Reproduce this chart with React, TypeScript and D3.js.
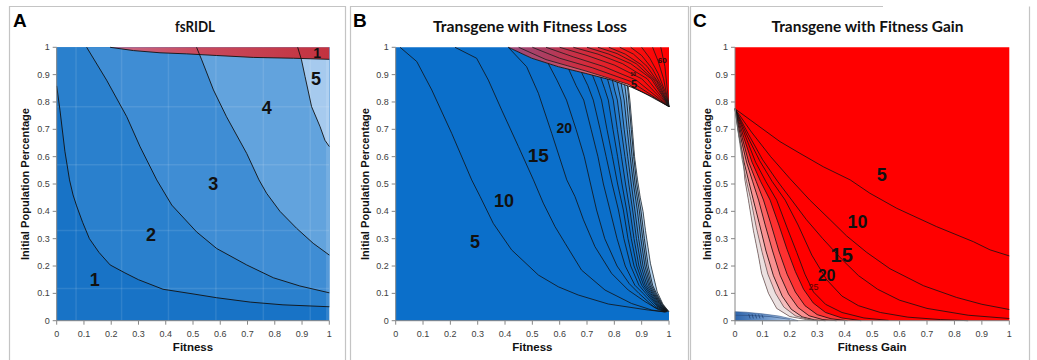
import React from 'react';
import * as d3 from 'd3';

type P = [number, number];

// ---------- shared ----------
const tickValues = [0, 0.1, 0.2, 0.3, 0.4, 0.5, 0.6, 0.7, 0.8, 0.9, 1];
const tickLabels = ['0', '0.1', '0.2', '0.3', '0.4', '0.5', '0.6', '0.7', '0.8', '0.9', '1'];
const panelLetters = ['A', 'B', 'C'];
const panelTitles = ['fsRIDL', 'Transgene with Fitness Loss', 'Transgene with Fitness Gain'];
const xTitles = ['Fitness', 'Fitness', 'Fitness Gain'];
const yTitle = 'Initial Population Percentage';

// ---------- Panel A (fsRIDL) contour lines ----------
const A_line1: P[] = [[0, 0.859], [0.012, 0.77], [0.03, 0.62], [0.047, 0.515], [0.06, 0.46], [0.073, 0.42], [0.095, 0.36], [0.12, 0.3], [0.155, 0.25], [0.196, 0.204], [0.25, 0.175], [0.3, 0.15], [0.39, 0.115], [0.5, 0.098], [0.587, 0.084], [0.71, 0.068], [0.83, 0.058], [1, 0.051]];
const A_line2: P[] = [[0.11, 1], [0.183, 0.88], [0.257, 0.746], [0.306, 0.636], [0.367, 0.515], [0.422, 0.423], [0.513, 0.325], [0.587, 0.264], [0.697, 0.204], [0.795, 0.157], [0.892, 0.127], [1, 0.102]];
const A_line3: P[] = [[0.513, 1], [0.532, 0.954], [0.575, 0.844], [0.623, 0.746], [0.697, 0.612], [0.742, 0.515], [0.77, 0.466], [0.819, 0.4], [0.88, 0.338], [0.941, 0.283], [1, 0.24]];
const A_line4: P[] = [[0.884, 1], [0.898, 0.954], [0.911, 0.893], [0.935, 0.783], [0.966, 0.71], [0.984, 0.66], [1, 0.637]];
const A_red: P[] = [[0.196, 1], [0.282, 0.988], [0.379, 0.98], [0.477, 0.976], [0.587, 0.97], [0.721, 0.963], [0.868, 0.96], [1, 0.956]];
const A_gridX = [0.071, 0.238, 0.41, 0.584, 0.758, 0.93];
const A_gridY = [0.118, 0.33, 0.57, 0.783];
const A_labels: { t: string; x: number; y: number; s: number }[] = [
  { t: '1', x: 0.14, y: 0.149, s: 18 },
  { t: '2', x: 0.346, y: 0.313, s: 18 },
  { t: '3', x: 0.574, y: 0.5, s: 18 },
  { t: '4', x: 0.771, y: 0.778, s: 18 },
  { t: '5', x: 0.951, y: 0.884, s: 18 },
  { t: '1', x: 0.955, y: 0.979, s: 14 },
];

// ---------- Panel B (fitness loss) ----------
const B_boundary: P[] = [[0.412, 1], [0.498, 0.96], [0.595, 0.929], [0.693, 0.905], [0.79, 0.88], [0.863, 0.854], [0.937, 0.82], [1, 0.783]];
const B_edge: P[] = [[0.851, 0.856], [0.857, 0.807], [0.866, 0.7], [0.874, 0.6], [0.885, 0.515], [0.895, 0.45], [0.905, 0.4], [0.914, 0.33], [0.932, 0.21], [0.957, 0.105], [0.978, 0.06], [1, 0.033]];
const B_l5: P[] = [[0.016, 1], [0.077, 0.948], [0.132, 0.844], [0.205, 0.685], [0.278, 0.515], [0.309, 0.454], [0.357, 0.356], [0.424, 0.259], [0.522, 0.167], [0.595, 0.124], [0.668, 0.094], [0.778, 0.061], [0.924, 0.039], [0.985, 0.032]];
const B_l10: P[] = [[0.217, 1], [0.296, 0.96], [0.339, 0.88], [0.388, 0.77], [0.449, 0.637], [0.504, 0.515], [0.54, 0.43], [0.583, 0.344], [0.62, 0.283], [0.68, 0.185], [0.766, 0.112], [0.863, 0.063], [0.937, 0.039], [0.985, 0.032]];
const B_l15: P[] = [[0.412, 1], [0.479, 0.929], [0.522, 0.832], [0.571, 0.685], [0.626, 0.515], [0.656, 0.454], [0.674, 0.405], [0.687, 0.369], [0.729, 0.271], [0.79, 0.173], [0.851, 0.112], [0.912, 0.07], [0.96, 0.041], [0.988, 0.032]];
const B_l20: P[] = [[0.558, 0.941], [0.59, 0.88], [0.625, 0.807], [0.66, 0.7], [0.69, 0.6], [0.713, 0.5], [0.735, 0.405], [0.765, 0.3], [0.81, 0.2], [0.855, 0.135], [0.89, 0.1], [0.945, 0.05], [0.988, 0.032]];
const B_l25: P[] = [[0.633, 0.92], [0.66, 0.86], [0.688, 0.807], [0.715, 0.7], [0.74, 0.6], [0.76, 0.5], [0.784, 0.405], [0.81, 0.3], [0.84, 0.2], [0.875, 0.13], [0.905, 0.1], [0.95, 0.052], [0.99, 0.032]];
const B_l30: P[] = [[0.68, 0.908], [0.703, 0.86], [0.723, 0.807], [0.748, 0.7], [0.77, 0.6], [0.792, 0.5], [0.815, 0.405], [0.835, 0.3], [0.86, 0.2], [0.89, 0.13], [0.915, 0.1], [0.955, 0.054], [0.99, 0.033]];
const B_l35: P[] = [[0.72, 0.898], [0.737, 0.855], [0.753, 0.807], [0.773, 0.7], [0.793, 0.6], [0.812, 0.5], [0.833, 0.405], [0.85, 0.3], [0.872, 0.2], [0.9, 0.13], [0.922, 0.1], [0.958, 0.055], [0.992, 0.033]];
const B_l40: P[] = [[0.75, 0.89], [0.764, 0.85], [0.778, 0.807], [0.795, 0.7], [0.812, 0.6], [0.828, 0.5], [0.845, 0.405], [0.862, 0.3], [0.882, 0.2], [0.907, 0.13], [0.928, 0.1], [0.961, 0.056], [0.992, 0.034]];
const B_l45: P[] = [[0.775, 0.884], [0.786, 0.845], [0.796, 0.807], [0.811, 0.7], [0.826, 0.6], [0.841, 0.5], [0.857, 0.405], [0.872, 0.3], [0.89, 0.2], [0.913, 0.13], [0.933, 0.1], [0.964, 0.057], [0.993, 0.034]];
const B_l50: P[] = [[0.793, 0.879], [0.802, 0.84], [0.811, 0.807], [0.825, 0.7], [0.839, 0.6], [0.853, 0.5], [0.867, 0.405], [0.881, 0.3], [0.898, 0.2], [0.919, 0.13], [0.938, 0.1], [0.967, 0.058], [0.994, 0.034]];
const B_l55: P[] = [[0.81, 0.873], [0.817, 0.84], [0.824, 0.807], [0.836, 0.7], [0.849, 0.6], [0.862, 0.5], [0.875, 0.405], [0.889, 0.3], [0.905, 0.2], [0.925, 0.13], [0.942, 0.1], [0.969, 0.059], [0.995, 0.034]];
const B_l60: P[] = [[0.825, 0.867], [0.83, 0.84], [0.836, 0.807], [0.847, 0.7], [0.858, 0.6], [0.87, 0.5], [0.884, 0.405], [0.897, 0.3], [0.912, 0.2], [0.93, 0.13], [0.946, 0.1], [0.971, 0.06], [0.996, 0.034]];
const B_l65: P[] = [[0.838, 0.862], [0.841, 0.84], [0.845, 0.807], [0.855, 0.7], [0.865, 0.6], [0.876, 0.5], [0.891, 0.405], [0.904, 0.3], [0.918, 0.2], [0.935, 0.13], [0.95, 0.1], [0.973, 0.061], [0.997, 0.034]];
const B_l70: P[] = [[0.848, 0.858], [0.85, 0.84], [0.853, 0.807], [0.862, 0.7], [0.871, 0.6], [0.882, 0.5], [0.897, 0.405], [0.91, 0.3], [0.924, 0.2], [0.94, 0.13], [0.954, 0.1], [0.975, 0.062], [0.998, 0.034]];
const B_blueLines = [B_l5, B_l10, B_l15, B_l20, B_l25, B_l30, B_l35, B_l40, B_l45, B_l50, B_l55, B_l60, B_l65, B_l70];
const B_bandColors = ['#1574cc', '#237ccf', '#3587d3', '#4b94d8', '#66a5de', '#86b8e4', '#b0d0ee'];
const B_redLines: P[][] = [
  [[0.45, 1], [0.55, 0.955], [0.7, 0.912], [0.85, 0.865], [1, 0.783]],
  [[0.5, 1], [0.6, 0.96], [0.72, 0.925], [0.86, 0.875], [1, 0.783]],
  [[0.55, 1], [0.65, 0.965], [0.76, 0.93], [0.88, 0.88], [1, 0.783]],
  [[0.6, 1], [0.7, 0.97], [0.8, 0.935], [0.9, 0.885], [1, 0.783]],
  [[0.65, 1], [0.74, 0.975], [0.83, 0.94], [0.92, 0.885], [1, 0.783]],
  [[0.7, 1], [0.78, 0.975], [0.86, 0.94], [0.935, 0.885], [1, 0.783]],
  [[0.74, 1], [0.81, 0.977], [0.88, 0.94], [0.945, 0.88], [1, 0.783]],
  [[0.78, 1], [0.84, 0.975], [0.9, 0.935], [0.955, 0.875], [1, 0.783]],
  [[0.82, 1], [0.87, 0.975], [0.92, 0.93], [0.965, 0.865], [1, 0.783]],
  [[0.86, 1], [0.9, 0.97], [0.94, 0.92], [0.975, 0.855], [1, 0.783]],
  [[0.9, 1], [0.93, 0.96], [0.96, 0.905], [0.985, 0.84], [1, 0.783]],
  [[0.94, 1], [0.96, 0.95], [0.98, 0.885], [1, 0.783]],
  [[0.97, 1], [0.985, 0.93], [1, 0.783]],
];
const B_labels: { t: string; x: number; y: number; s: number }[] = [
  { t: '5', x: 0.29, y: 0.289, s: 18 },
  { t: '10', x: 0.396, y: 0.44, s: 18 },
  { t: '15', x: 0.522, y: 0.606, s: 19 },
  { t: '20', x: 0.617, y: 0.704, s: 14 },
  { t: '5', x: 0.872, y: 0.865, s: 11 },
  { t: '10', x: 0.868, y: 0.9, s: 5 },
  { t: '60', x: 0.975, y: 0.953, s: 8 },
];

// ---------- Panel C (fitness gain) ----------
const C_edge: P[] = [[0, 0.775], [0.01, 0.7], [0.018, 0.66], [0.03, 0.588], [0.036, 0.515], [0.049, 0.441], [0.067, 0.33], [0.085, 0.24], [0.097, 0.173], [0.122, 0.1], [0.152, 0.045], [0.2, 0.015], [0.26, 0.004], [0.3, 0]];
const C_f1: P[] = [[0, 0.775], [0.013, 0.68], [0.026, 0.59], [0.042, 0.51], [0.058, 0.441], [0.078, 0.34], [0.099, 0.25], [0.12, 0.17], [0.148, 0.1], [0.178, 0.05], [0.22, 0.018], [0.27, 0.004], [0.31, 0]];
const C_l45: P[] = [[0, 0.775], [0.016, 0.67], [0.033, 0.58], [0.05, 0.51], [0.067, 0.441], [0.09, 0.35], [0.113, 0.255], [0.14, 0.165], [0.172, 0.09], [0.205, 0.042], [0.245, 0.014], [0.29, 0.003], [0.33, 0]];
const C_l40: P[] = [[0, 0.775], [0.021, 0.67], [0.042, 0.58], [0.064, 0.51], [0.086, 0.441], [0.11, 0.35], [0.137, 0.255], [0.165, 0.165], [0.195, 0.098], [0.23, 0.048], [0.27, 0.018], [0.32, 0.004], [0.37, 0]];
const C_l35: P[] = [[0, 0.775], [0.026, 0.67], [0.05, 0.58], [0.077, 0.51], [0.104, 0.441], [0.132, 0.35], [0.16, 0.255], [0.19, 0.17], [0.22, 0.105], [0.255, 0.055], [0.3, 0.022], [0.35, 0.007], [0.41, 0]];
const C_l30: P[] = [[0, 0.775], [0.032, 0.67], [0.062, 0.58], [0.093, 0.51], [0.128, 0.441], [0.16, 0.35], [0.19, 0.26], [0.22, 0.18], [0.25, 0.115], [0.285, 0.065], [0.33, 0.03], [0.39, 0.01], [0.46, 0]];
const C_l25: P[] = [[0, 0.775], [0.04, 0.67], [0.075, 0.58], [0.112, 0.51], [0.152, 0.441], [0.19, 0.34], [0.225, 0.25], [0.255, 0.17], [0.286, 0.105], [0.33, 0.06], [0.39, 0.03], [0.47, 0.01], [0.56, 0.001]];
const C_l20: P[] = [[0, 0.775], [0.045, 0.675], [0.09, 0.585], [0.135, 0.51], [0.183, 0.441], [0.23, 0.35], [0.28, 0.24], [0.334, 0.15], [0.39, 0.09], [0.45, 0.055], [0.53, 0.03], [0.63, 0.013], [0.75, 0.004], [0.85, 0]];
const C_l15: P[] = [[0, 0.775], [0.05, 0.68], [0.1, 0.59], [0.155, 0.51], [0.207, 0.441], [0.26, 0.37], [0.32, 0.3], [0.389, 0.225], [0.45, 0.165], [0.52, 0.115], [0.6, 0.075], [0.7, 0.045], [0.85, 0.02], [1, 0.008]];
const C_l10: P[] = [[0, 0.775], [0.06, 0.69], [0.13, 0.6], [0.2, 0.52], [0.273, 0.441], [0.346, 0.37], [0.407, 0.31], [0.48, 0.25], [0.565, 0.19], [0.687, 0.128], [0.808, 0.085], [0.9, 0.06], [1, 0.041]];
const C_l5: P[] = [[0, 0.775], [0.164, 0.655], [0.237, 0.612], [0.322, 0.563], [0.42, 0.515], [0.492, 0.466], [0.59, 0.411], [0.735, 0.344], [0.869, 0.289], [0.93, 0.259], [1, 0.237]];
const C_lines = [C_l5, C_l10, C_l15, C_l20, C_l25, C_l30, C_l35, C_l40, C_l45, C_f1, C_edge];
const C_fringe = [C_edge, C_f1, C_l45, C_l40, C_l35, C_l30];
const C_fringeColors = ['#ebe0e0', '#f5bcbc', '#f99090', '#fc6262', '#fe3030'];
const C_blue: P[] = [[0, 0], [0, 0.033], [0.04, 0.031], [0.1, 0.025], [0.16, 0.017], [0.2, 0.008], [0.23, 0]];
const C_blueInner: P[] = [[0, 0.02], [0.06, 0.019], [0.13, 0.015], [0.2, 0.005]];
const C_hatch: [number, number, number, number][] = [[0.05, 0.024, 0.055, 0.008], [0.062, 0.024, 0.067, 0.008], [0.074, 0.023, 0.079, 0.008], [0.086, 0.023, 0.091, 0.008], [0.098, 0.022, 0.103, 0.009]];
const C_labels: { t: string; x: number; y: number; s: number; c?: string; w?: string }[] = [
  { t: '5', x: 0.535, y: 0.533, s: 18 },
  { t: '10', x: 0.447, y: 0.362, s: 18 },
  { t: '15', x: 0.389, y: 0.24, s: 20 },
  { t: '20', x: 0.334, y: 0.167, s: 16 },
  { t: '25', x: 0.286, y: 0.124, s: 9, c: '#5a0000', w: 'normal' },
];

// ---------- layout ----------
const Y_BOTTOM = 320.7;
const Y_TOP = 47.3;
const panelX: [number, number][] = [[56.7, 329.3], [395.7, 669], [735, 1009.3]];
const titleCenters = [195, 530, 867.5];
const titleWidths = [40, 194, 192];
const letterX = [13, 353, 693];
const yTitleX = [25, 365, 707];

const FONT = 'Liberation Sans, Arial, sans-serif';
const TITLE_FONT = 'Lato, Liberation Sans, sans-serif';

function Axes({ i }: { i: number }) {
  const x = d3.scaleLinear().domain([0, 1]).range(panelX[i]);
  const y = d3.scaleLinear().domain([0, 1]).range([Y_BOTTOM, Y_TOP]);
  const cx = (panelX[i][0] + panelX[i][1]) / 2;
  const cy = (Y_BOTTOM + Y_TOP) / 2;
  return (
    <g fontFamily={FONT}>
      <line x1={x(0)} x2={x(1)} y1={y(0)} y2={y(0)} stroke="#868686" />
      <line x1={x(0)} x2={x(0)} y1={y(0)} y2={y(1)} stroke="#868686" />
      {tickValues.map((t, k) => (
        <g key={'x' + k}>
          <line x1={x(t)} x2={x(t)} y1={y(0)} y2={y(0) + 4} stroke="#868686" />
          <text x={x(t)} y={336.5} fontSize={9} textAnchor="middle" fill="#404040">{tickLabels[k]}</text>
        </g>
      ))}
      {tickValues.map((t, k) => (
        <g key={'y' + k}>
          <line x1={x(0) - 4} x2={x(0)} y1={y(t)} y2={y(t)} stroke="#868686" />
          <text x={x(0) - 7} y={y(t) + 3} fontSize={9} textAnchor="end" fill="#404040">{tickLabels[k]}</text>
        </g>
      ))}
      <text x={cx} y={351} fontSize={11.5} fontWeight="bold" textAnchor="middle" fill="#111">{xTitles[i]}</text>
      <text transform={`translate(${yTitleX[i] + 4},${cy}) rotate(-90)`} fontSize={11} fontWeight="bold" textAnchor="middle" fill="#111" textLength={152} lengthAdjust="spacingAndGlyphs">{yTitle}</text>
      <text x={letterX[i]} y={27} fontSize={19} fontWeight="bold" fill="#000">{panelLetters[i]}</text>
      <text x={titleCenters[i]} y={32} fontFamily={TITLE_FONT} fontSize={15} fontWeight="bold" textAnchor="middle" fill="#111" textLength={titleWidths[i]} lengthAdjust="spacingAndGlyphs">{panelTitles[i]}</text>
    </g>
  );
}

function PanelA() {
  const x = d3.scaleLinear().domain([0, 1]).range(panelX[0]);
  const y = d3.scaleLinear().domain([0, 1]).range([Y_BOTTOM, Y_TOP]);
  const line = d3.line<P>().x(d => x(d[0])).y(d => y(d[1]));
  const above = (pts: P[]) => line([...pts, [1, 1] as P, [pts[0][0], 1] as P]) + 'Z';
  return (
    <g>
      <defs>
        <linearGradient id="aRed" gradientUnits="userSpaceOnUse" x1={x(0.2)} x2={x(1)} y1={0} y2={0}>
          <stop offset="0" stopColor="#c86a86" />
          <stop offset="0.4" stopColor="#c84a5e" />
          <stop offset="1" stopColor="#c3323f" />
        </linearGradient>
      </defs>
      <rect x={x(0)} y={y(1)} width={x(1) - x(0)} height={y(0) - y(1)} fill="#1873c6" />
      <path d={above(A_line1)} fill="#2a80cd" />
      <path d={above(A_line2)} fill="#3f8dd4" />
      <path d={above(A_line3)} fill="#62a3dd" />
      <path d={above(A_line4)} fill="#a6caee" />
      {A_gridX.map((g, k) => <line key={'gx' + k} x1={x(g)} x2={x(g)} y1={y(0)} y2={y(1)} stroke="#ffffff" strokeOpacity={0.1} strokeWidth={1.5} />)}
      {A_gridY.map((g, k) => <line key={'gy' + k} x1={x(0)} x2={x(1)} y1={y(g)} y2={y(g)} stroke="#ffffff" strokeOpacity={0.1} strokeWidth={1.5} />)}
      <rect x={x(0.988)} y={y(0.955)} width={x(1) - x(0.988)} height={y(0) - y(0.955)} fill="#ffffff" opacity={0.12} />
      <path d={above(A_red)} fill="url(#aRed)" />
      {[A_line1, A_line2, A_line3, A_line4, A_red].map((l, k) => (
        <path key={k} d={line(l) || ''} fill="none" stroke="#111" strokeWidth={0.9} />
      ))}
      {A_labels.map((l, k) => (
        <text key={k} x={x(l.x)} y={y(l.y)} dy="0.35em" fontFamily={FONT} fontSize={l.s} fontWeight="bold" textAnchor="middle" fill="#111">{l.t}</text>
      ))}
    </g>
  );
}

function PanelB() {
  const x = d3.scaleLinear().domain([0, 1]).range(panelX[1]);
  const y = d3.scaleLinear().domain([0, 1]).range([Y_BOTTOM, Y_TOP]);
  const line = d3.line<P>().x(d => x(d[0])).y(d => y(d[1]));
  const bluePoly: P[] = [[0, 0], [0, 1], ...B_boundary.filter(p => p[0] < 0.851), ...B_edge, [1, 0]];
  const redPoly: P[] = [[1, 1], ...B_boundary.slice().reverse(), [0.412, 1]];
  const band = (a: P[], b: P[]) => line([...a, ...b.slice().reverse()]) + 'Z';
  const outer = [...B_blueLines.slice(7), B_edge];
  const lowPink: P[] = [...B_boundary, ...B_redLines[0].slice().reverse()];
  return (
    <g>
      <defs>
        <linearGradient id="bRed" gradientUnits="userSpaceOnUse" x1={x(0.41)} x2={x(1)} y1={0} y2={0}>
          <stop offset="0" stopColor="#9a4a7c" />
          <stop offset="0.25" stopColor="#b03c5e" />
          <stop offset="0.5" stopColor="#d62a3a" />
          <stop offset="0.75" stopColor="#f61414" />
          <stop offset="1" stopColor="#ff0000" />
        </linearGradient>
        <linearGradient id="bPink" gradientUnits="userSpaceOnUse" x1={x(0.41)} x2={x(1)} y1={0} y2={0}>
          <stop offset="0" stopColor="#a05080" stopOpacity={0} />
          <stop offset="0.55" stopColor="#e89aa8" stopOpacity={0.6} />
          <stop offset="0.85" stopColor="#fbdada" stopOpacity={0.95} />
          <stop offset="1" stopColor="#ffb0b0" stopOpacity={0.8} />
        </linearGradient>
      </defs>
      <path d={line(bluePoly) + 'Z'} fill="#0b6fca" />
      {outer.slice(0, -1).map((l, k) => (
        <path key={'band' + k} d={band(l, outer[k + 1])} fill={B_bandColors[k]} />
      ))}
      <path d={line(redPoly) + 'Z'} fill="url(#bRed)" />
      <path d={line(lowPink) + 'Z'} fill="url(#bPink)" />
      {B_blueLines.map((l, k) => (
        <path key={'bl' + k} d={line(l) || ''} fill="none" stroke="#111" strokeWidth={0.8} />
      ))}
      <path d={line(B_edge) || ''} fill="none" stroke="#333" strokeWidth={0.8} />
      {B_redLines.map((l, k) => (
        <path key={'rl' + k} d={line(l) || ''} fill="none" stroke="#1a1a1a" strokeWidth={0.8} />
      ))}
      <path d={line(B_boundary) || ''} fill="none" stroke="#111" strokeWidth={0.9} />
      {B_labels.map((l, k) => (
        <text key={k} x={x(l.x)} y={y(l.y)} dy="0.35em" fontFamily={FONT} fontSize={l.s} fontWeight="bold" textAnchor="middle" fill="#111">{l.t}</text>
      ))}
    </g>
  );
}

function PanelC() {
  const x = d3.scaleLinear().domain([0, 1]).range(panelX[2]);
  const y = d3.scaleLinear().domain([0, 1]).range([Y_BOTTOM, Y_TOP]);
  const line = d3.line<P>().x(d => x(d[0])).y(d => y(d[1]));
  const redPoly: P[] = [...C_edge, [1, 0], [1, 1], [0, 1]];
  const band = (a: P[], b: P[]) => line([...a, ...b.slice().reverse()]) + 'Z';
  return (
    <g>
      <defs>
        <linearGradient id="cBlue" gradientUnits="userSpaceOnUse" x1={x(0)} x2={x(0.23)} y1={0} y2={0}>
          <stop offset="0" stopColor="#2f66ad" />
          <stop offset="0.5" stopColor="#6f98cc" />
          <stop offset="1" stopColor="#c4d6ec" />
        </linearGradient>
      </defs>
      <path d={line(redPoly) + 'Z'} fill="#ff0000" />
      {C_fringe.slice(0, -1).map((l, k) => (
        <path key={'fr' + k} d={band(l, C_fringe[k + 1])} fill={C_fringeColors[k]} />
      ))}
      {C_lines.map((l, k) => (
        <path key={'cl' + k} d={line(l) || ''} fill="none" stroke={k >= 9 ? '#666' : '#111'} strokeWidth={0.8} />
      ))}
      <path d={line(C_blue) + 'Z'} fill="url(#cBlue)" stroke="#3a5a8a" strokeWidth={0.6} />
      <path d={line(C_blueInner) || ''} fill="none" stroke="#2a4a7a" strokeWidth={0.6} />
      {C_hatch.map((h, k) => (
        <line key={'h' + k} x1={x(h[0])} y1={y(h[1])} x2={x(h[2])} y2={y(h[3])} stroke="#1a3a6a" strokeWidth={0.7} />
      ))}
      {C_labels.map((l, k) => (
        <text key={k} x={x(l.x)} y={y(l.y)} dy="0.35em" fontFamily={FONT} fontSize={l.s} fontWeight={l.w || 'bold'} textAnchor="middle" fill={l.c || '#111'}>{l.t}</text>
      ))}
    </g>
  );
}

export default function App() {
  return (
    <svg width={1037} height={360} style={{ position: 'absolute', left: 0, top: 0, background: '#fff' }}>
      <rect x={0} y={0} width={1037} height={360} fill="#fff" />
      <g stroke="#c4c4c4" strokeWidth={1.2} fill="none">
        <path d="M9.5,360 V6.5 H345.5 V360" />
        <path d="M350.5,360 V6.5 H688.5 V360" />
        <path d="M690.5,360 V6.5 H883" />
        <path d="M1029.5,6.5 V360" />
      </g>
      <PanelA />
      <PanelB />
      <PanelC />
      <Axes i={0} />
      <Axes i={1} />
      <Axes i={2} />
    </svg>
  );
}
